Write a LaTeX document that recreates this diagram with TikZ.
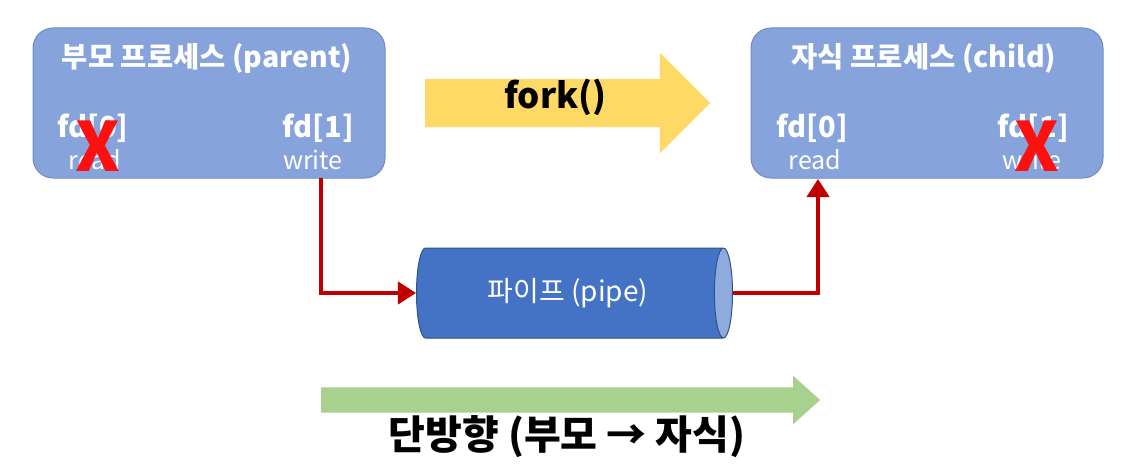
\documentclass[tikz,border=0pt]{standalone}
\usepackage{fontspec}
\setmainfont{Noto Sans CJK KR}
\usepackage{tikz}
\usetikzlibrary{arrows.meta,positioning,shapes.geometric,shapes.arrows}
\definecolor{procblue}{HTML}{86A3DB}
\definecolor{procedge}{HTML}{6E8CC8}
\definecolor{pipeblue}{HTML}{4472C4}
\definecolor{pipeedge}{HTML}{2F528F}
\definecolor{pipeend}{HTML}{8FAADC}
\definecolor{forkyellow}{HTML}{FFD966}
\definecolor{flowgreen}{HTML}{A9D18E}
\definecolor{linkred}{HTML}{C00000}
\definecolor{crossred}{HTML}{FF1010}

\tikzset{
  procbox/.style={draw=procedge,line width=1pt,rounded corners=20pt,fill=procblue,
    minimum width=352pt,minimum height=150pt},
  proctitle/.style={text=white,font=\fontsize{28.5}{28.5}\selectfont\bfseries},
  fdname/.style={text=white,font=\fontsize{29}{29}\selectfont\bfseries},
  fdrole/.style={text=white,font=\fontsize{25}{25}\selectfont},
  xmark/.style={text=crossred,font=\fontsize{68}{68}\selectfont\bfseries},
  link/.style={linkred,line width=4pt,-{Triangle[length=18pt,width=22pt]}},
}

\begin{document}
\begin{tikzpicture}[x=1pt,y=1pt]
  \useasboundingbox (0,0) rectangle (1134,-468);

  % processes
  \node[procbox] (parent) at (209,-103) {};
  \node[procbox] (child) at (927,-103) {};
  \node[proctitle] (ptitle) at (207,-58) {부모 프로세스 (parent)};
  \node[proctitle] (ctitle) at (924,-58) {자식 프로세스 (child)};

  \node[fdname] (pfd0) at (93,-128) {fd[0]};
  \node[fdrole] (pread) at (95,-160) {read};
  \node[fdname] (pfd1) at (318,-128) {fd[1]};
  \node[fdrole] (pwrite) at (313,-160) {write};
  \node[xmark] (pcross) at (98,-146) {X};

  \node[fdname] (cfd0) at (812,-128) {fd[0]};
  \node[fdrole] (cread) at (815,-160) {read};
  \node[fdname] (cfd1) at (1033,-128) {fd[1]};
  \node[fdrole] (cwrite) at (1032,-160) {write};
  \node[xmark] (ccross) at (1037,-146) {X};

  % fork
  \node[single arrow,fill=forkyellow,minimum height=285pt,minimum width=100pt,
    single arrow head extend=26pt,text height=18pt,text depth=6pt,inner ysep=12pt,
    inner xsep=0pt,font=\fontsize{35}{35}\selectfont\bfseries] (fork) at (555.5,-103) {fork()};

  % pipe
  \node[cylinder,draw=pipeedge,line width=1pt,cylinder uses custom fill,
    cylinder body fill=pipeblue,cylinder end fill=pipeend,aspect=0.5,
    minimum height=316pt,minimum width=90pt,text=white,
    font=\fontsize{28}{28}\selectfont] (pipe) at (568,-293) {파이프 (pipe)};

  \coordinate (pout) at (321,-178);
  \coordinate (cin) at (818,-179);
  \draw[link] (pout) |- (pipe.west);
  \draw[link] (pipe.east) -| (cin);

  % direction
  \node[single arrow,fill=flowgreen,minimum height=499pt,minimum width=48pt,
    single arrow head extend=11.5pt,inner ysep=12.5pt,inner xsep=0pt,
    single arrow tip angle=84] (flow) at (563.5,-400) {};
  \node[font=\fontsize{40}{40}\selectfont\bfseries] (flowtext) at (567,-437) {단방향 (부모 → 자식)};
\end{tikzpicture}
\end{document}
